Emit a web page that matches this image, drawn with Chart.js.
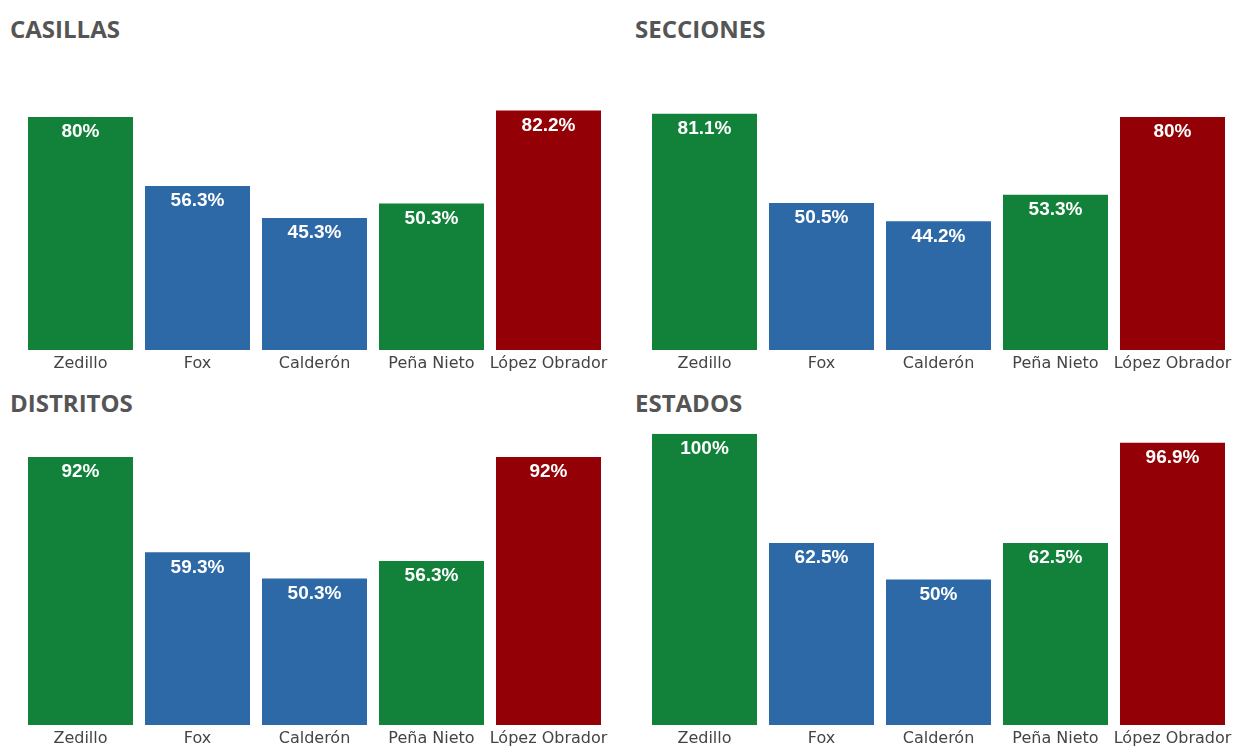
<!DOCTYPE html>
<html lang="es">
<head>
<meta charset="utf-8">
<title>Casillas, secciones, distritos y estados</title>
<script src="https://cdn.jsdelivr.net/npm/chart.js@4/dist/chart.umd.min.js"></script>
<style>
  html, body { margin: 0; padding: 0; background: #fff; overflow: hidden; }
  body { width: 1233px; height: 746px; position: relative; }
  .titulo {
    position: absolute;
    font-family: "Open Sans", sans-serif;
    font-weight: 700;
    font-size: 24px;
    color: #555;
    line-height: 30px;
  }
  .panel { position: absolute; }
</style>
</head>
<body>
<div class="titulo" style="left:10px; top:14px;">CASILLAS</div>
<div class="titulo" style="left:635px; top:14px;">SECCIONES</div>
<div class="titulo" style="left:10px; top:388px;">DISTRITOS</div>
<div class="titulo" style="left:635px; top:388px;">ESTADOS</div>

<div class="panel" style="left:0; top:50px; width:615px; height:326px;"><canvas id="casillas"></canvas></div>
<div class="panel" style="left:624px; top:50px; width:609px; height:326px;"><canvas id="secciones"></canvas></div>
<div class="panel" style="left:0; top:425px; width:615px; height:326px;"><canvas id="distritos"></canvas></div>
<div class="panel" style="left:624px; top:425px; width:609px; height:326px;"><canvas id="estados"></canvas></div>

<script>
// Candidatos y porcentajes de cada nivel
const candidatos = ['Zedillo', 'Fox', 'Calderón', 'Peña Nieto', 'López Obrador'];
const casillas = [80, 56.3, 45.3, 50.3, 82.2];
const secciones = [81.1, 50.5, 44.2, 53.3, 80];
const distritos = [92, 59.3, 50.3, 56.3, 92];
const estados = [100, 62.5, 50, 62.5, 96.9];
const colores = ['#12823a', '#2d69a7', '#2d69a7', '#12823a', '#930006'];

// Etiqueta blanca con el porcentaje dentro de cada barra
const etiquetas = {
  id: 'etiquetas',
  afterDatasetsDraw(chart) {
    const ctx = chart.ctx;
    const meta = chart.getDatasetMeta(0);
    const valores = chart.data.datasets[0].data;
    ctx.save();
    ctx.fillStyle = '#fff';
    ctx.font = 'bold 19px "Liberation Sans", Arial, sans-serif';
    ctx.textAlign = 'center';
    ctx.textBaseline = 'middle';
    meta.data.forEach((bar, i) => {
      ctx.fillText(valores[i] + '%', bar.x, bar.y + 15);
    });
    ctx.restore();
  }
};

function crearGrafica(id, valores, padRight) {
  const ctx = document.getElementById(id).getContext('2d');
  new Chart(ctx, {
    type: 'bar',
    data: {
      labels: candidatos,
      datasets: [{
        data: valores,
        backgroundColor: colores,
        borderWidth: 0,
        categoryPercentage: 1,
        barPercentage: 105 / 117
      }]
    },
    options: {
      responsive: true,
      maintainAspectRatio: false,
      animation: false,
      layout: { padding: { top: 8.75, left: 22, right: padRight, bottom: 0 } },
      plugins: {
        legend: { display: false },
        tooltip: { enabled: false }
      },
      scales: {
        x: {
          grid: { display: false, drawTicks: false },
          border: { display: false },
          ticks: {
            color: '#444',
            font: { family: '"DejaVu Sans", sans-serif', size: 16 },
            padding: 4,
            maxRotation: 0,
            autoSkip: false
          },
          afterFit(axis) {
            // altura fija y sin margen extra por la última etiqueta
            axis.height = 26;
            axis.paddingLeft = 0;
            axis.paddingRight = 0;
          }
        },
        y: {
          display: false,
          min: 0,
          max: 100
        }
      }
    },
    plugins: [etiquetas]
  });
}

crearGrafica('casillas', casillas, 8);
crearGrafica('secciones', secciones, 2);
crearGrafica('distritos', distritos, 8);
crearGrafica('estados', estados, 2);
</script>
</body>
</html>
